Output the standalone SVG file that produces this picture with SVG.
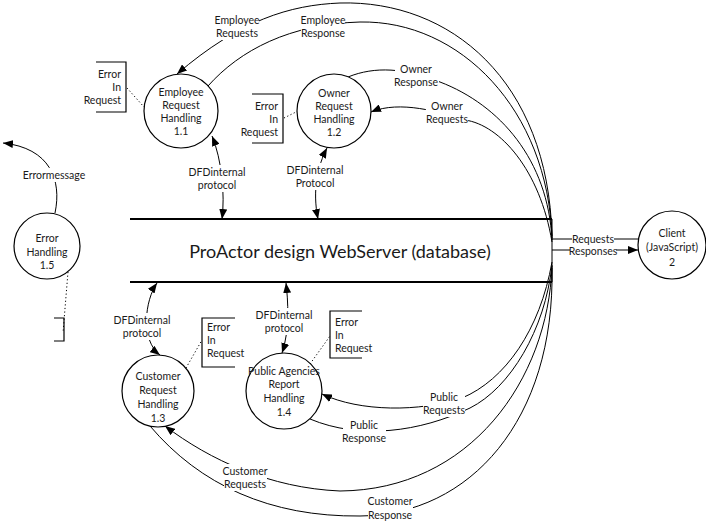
<svg xmlns="http://www.w3.org/2000/svg" width="706" height="522" viewBox="0 0 706 522">
<defs>
<marker id="ah" viewBox="0 0 10 8" refX="10" refY="4" markerWidth="10" markerHeight="8" markerUnits="userSpaceOnUse" orient="auto-start-reverse">
<path d="M0,0 L10,4 L0,8 Z" fill="#000"/>
</marker>
</defs>
<style>
text{font-family:Lato,"Open Sans","Liberation Sans",sans-serif;font-size:10.5px;fill:#1a1a1a}
.t{text-anchor:middle}
.r{text-anchor:end}
.l{text-anchor:start}
.title{font-size:18px;text-anchor:middle}
.c{fill:#fff;stroke:#000;stroke-width:1.2}
.f{fill:none;stroke:#000;stroke-width:1}
.st{fill:none;stroke:#000;stroke-width:2}
.box{fill:none;stroke:#000;stroke-width:1.2}
.dot{fill:none;stroke:#000;stroke-width:1;stroke-dasharray:1.2 2.4}
.a{marker-end:url(#ah)}
.aa{marker-end:url(#ah);marker-start:url(#ah)}
.bg{fill:#fff}
</style>
<rect width="706" height="522" fill="#fff"/>
<g id="connectors">
<path class="f a" d="M552 236 C548 80 450 0 340 3 C290 5 240 20 177 74"/>
<path class="f" d="M208 86 C240 50 290 24 360 22 C460 20 548 110 552 238"/>
<path class="f" d="M348 77 C375 66 405 68 440 82 C500 105 548 160 552 240"/>
<path class="f a" d="M552 242 C540 170 500 125 465 120 C440 112 400 100 371 112"/>
<path class="f a" d="M552 262 C540 330 505 380 462 398 C420 412 360 412 322 394"/>
<path class="f" d="M310 419 C360 440 420 432 470 408 C510 388 545 330 552 265"/>
<path class="f a" d="M552 266 C548 380 470 490 340 491 C270 488 210 460 165 426"/>
<path class="f" d="M150 426 C200 485 270 517 360 516 C470 515 555 420 552 268"/>
<path class="f" d="M552 239 H638"/>
<path class="f a" d="M552 250 H638"/>
<path class="f a" d="M55 213 C62 180 50 148 3 143"/>
<path class="f aa" d="M222 219 C225 195 222 160 212 136"/>
<path class="f aa" d="M318 219 C312 190 318 165 327 148"/>
<path class="f aa" d="M157 283 C145 300 140 340 160 355"/>
<path class="f aa" d="M286 283 C288 300 290 330 282 353"/>
<path class="dot" d="M127 88 L144 107"/>
<path class="dot" d="M284 118 L298 111"/>
<path class="dot" d="M68 272 L63 333"/>
<path class="dot" d="M186 368 L202 340"/>
<path class="dot" d="M310 364 L330 336"/>
<g id="labels">
<rect class="bg" x="215" y="13" width="44" height="27"/>
<text class="t" x="237" y="24">Employee</text><text class="t" x="237" y="37">Requests</text>
<rect class="bg" x="301" y="12" width="44" height="27"/>
<text class="t" x="323" y="24">Employee</text><text class="t" x="323" y="37">Response</text>
<rect class="bg" x="395" y="62" width="44" height="27"/>
<text class="t" x="416" y="73">Owner</text><text class="t" x="416" y="86">Response</text>
<rect class="bg" x="426" y="99" width="42" height="27"/>
<text class="t" x="447" y="110">Owner</text><text class="t" x="447" y="123">Requests</text>
<rect class="bg" x="192" y="165" width="50" height="27"/>
<text class="t" x="217" y="176">DFDinternal</text><text class="t" x="217" y="189">protocol</text>
<rect class="bg" x="290" y="163" width="50" height="27"/>
<text class="t" x="315" y="174">DFDinternal</text><text class="t" x="315" y="187">Protocol</text>
<rect class="bg" x="22" y="168" width="64" height="14"/>
<text class="t" x="54" y="179">Errormessage</text>
<rect class="bg" x="117" y="313" width="50" height="27"/>
<text class="t" x="142" y="324">DFDinternal</text><text class="t" x="142" y="337">protocol</text>
<rect class="bg" x="259" y="308" width="50" height="27"/>
<text class="t" x="284" y="319">DFDinternal</text><text class="t" x="284" y="332">protocol</text>
<rect class="bg" x="423" y="390" width="42" height="27"/>
<text class="t" x="444" y="401">Public</text><text class="t" x="444" y="414">Requests</text>
<rect class="bg" x="343" y="418" width="43" height="27"/>
<text class="t" x="364" y="429">Public</text><text class="t" x="364" y="442">Response</text>
<rect class="bg" x="224" y="464" width="43" height="27"/>
<text class="t" x="245" y="475">Customer</text><text class="t" x="245" y="488">Requests</text>
<rect class="bg" x="368" y="494" width="45" height="28"/>
<text class="t" x="390" y="505">Customer</text><text class="t" x="390" y="519">Response</text>
<rect class="bg" x="572" y="233" width="42" height="11"/>
<text class="t" x="593" y="243">Requests</text>
<rect class="bg" x="570" y="245" width="46" height="11"/>
<text class="t" x="593" y="255">Responses</text>
</g>
</g>
<g id="store">
<path class="st" d="M130 219 H552 M130 282 H552"/>
<path class="f" d="M552 219 V282"/>
<text class="title" x="340" y="258">ProActor design WebServer (database)</text>
</g>
<g id="employee">
<circle class="c" cx="181" cy="111" r="37"/>
<text class="t" x="181" y="96">Employee</text><text class="t" x="181" y="109">Request</text><text class="t" x="181" y="122">Handling</text><text class="t" x="181" y="135">1.1</text>
</g>
<g id="employee-error">
<path class="box" d="M96 62 H126 V112 H96"/>
<text class="r" x="121" y="78">Error</text><text class="r" x="121" y="91">In</text><text class="r" x="121" y="104">Request</text>
</g>
<g id="owner">
<circle class="c" cx="334" cy="111" r="37"/>
<text class="t" x="334" y="97">Owner</text><text class="t" x="334" y="110">Request</text><text class="t" x="334" y="123">Handling</text><text class="t" x="334" y="136">1.2</text>
</g>
<g id="owner-error">
<path class="box" d="M252 94 H283 V143 H252"/>
<text class="r" x="278" y="110">Error</text><text class="r" x="278" y="123">In</text><text class="r" x="278" y="136">Request</text>
</g>
<g id="error-handling">
<circle class="c" cx="47" cy="246" r="33"/>
<text class="t" x="47" y="242">Error</text><text class="t" x="47" y="256">Handling</text><text class="t" x="47" y="269">1.5</text>
</g>
<g id="error-store">
<path class="box" d="M54 318 H64 V341 H54"/>
</g>
<g id="customer">
<circle class="c" cx="158" cy="391" r="36"/>
<text class="t" x="158" y="380">Customer</text><text class="t" x="158" y="394">Request</text><text class="t" x="158" y="408">Handling</text><text class="t" x="158" y="422">1.3</text>
</g>
<g id="customer-error">
<path class="box" d="M235 318 H202 V367 H235"/>
<text class="l" x="207" y="331">Error</text><text class="l" x="207" y="344">In</text><text class="l" x="207" y="357">Request</text>
</g>
<g id="public">
<circle class="c" cx="284" cy="391" r="38"/>
<text class="t" x="284" y="375">Public Agencies</text><text class="t" x="284" y="388">Report</text><text class="t" x="284" y="402">Handling</text><text class="t" x="284" y="416">1.4</text>
</g>
<g id="public-error">
<path class="box" d="M362 311 H330 V358 H362"/>
<text class="l" x="335" y="326">Error</text><text class="l" x="335" y="339">In</text><text class="l" x="335" y="352">Request</text>
</g>
<g id="client">
<circle class="c" cx="672" cy="245" r="34"/>
<text class="t" x="672" y="237">Client</text><text class="t" x="672" y="251">(JavaScript)</text><text class="t" x="672" y="266">2</text>
</g>
</svg>
